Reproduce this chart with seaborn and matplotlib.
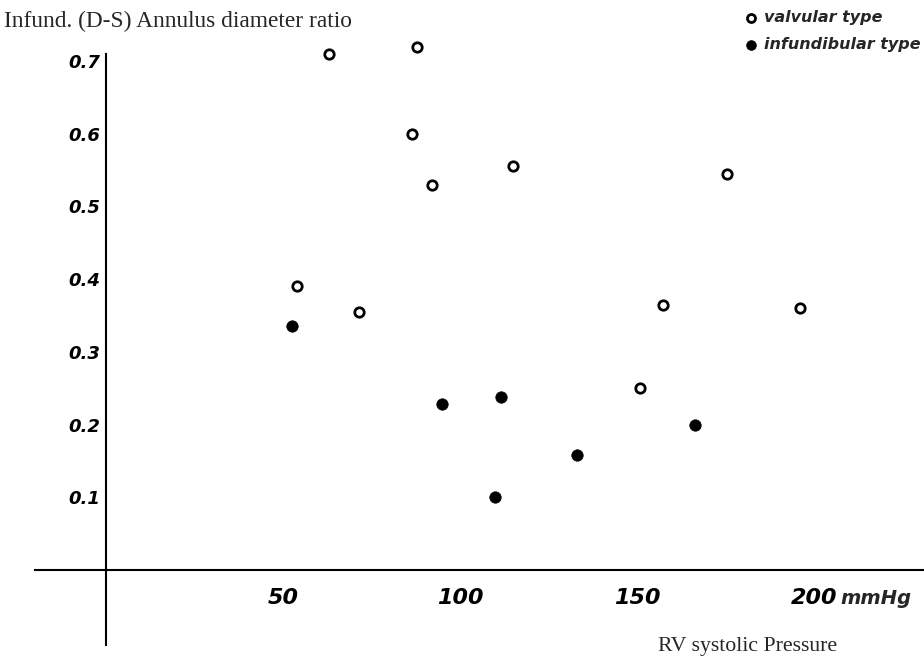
import matplotlib
matplotlib.use("Agg")
import matplotlib.pyplot as plt
import seaborn as sns
import pandas as pd

# ---- data ----
valv_x = [54, 63, 71.5, 86.5, 88, 92, 115, 151, 157.5, 175.5, 196]
valv_y = [0.39, 0.71, 0.355, 0.60, 0.72, 0.53, 0.555, 0.25, 0.365, 0.545, 0.36]
inf_x = [52.5, 95, 110, 111.5, 133, 166.5]
inf_y = [0.335, 0.228, 0.10, 0.238, 0.158, 0.20]

x_ticks = [50, 100, 150, 200]
y_ticks = [0.1, 0.2, 0.3, 0.4, 0.5, 0.6, 0.7]
y_ticklabels = ["0.1", "0.2", "0.3", "0.4", "0.5", "0.6", "0.7"]

title = "Infund. (D-S) Annulus diameter ratio"
xlabel = "RV systolic Pressure"
unit = "mmHg"
labels = ["valvular type", "infundibular type"]

df = pd.DataFrame({
    "pressure": valv_x + inf_x,
    "ratio": valv_y + inf_y,
    "type": [labels[0]] * len(valv_x) + [labels[1]] * len(inf_x),
})

sns.set_style("white")
plt.rcParams["font.family"] = ["DejaVu Sans"]

fig = plt.figure(figsize=(9.24, 6.59), dpi=100, facecolor="white")
ax = fig.add_axes([0, 0, 1, 1])
ax.set_facecolor("white")

sns.scatterplot(data=df[df["type"] == labels[0]], x="pressure", y="ratio",
                marker="o", s=46, facecolor="white", edgecolor="black",
                linewidth=2.0, label=labels[0], ax=ax, clip_on=False, zorder=3)
sns.scatterplot(data=df[df["type"] == labels[1]], x="pressure", y="ratio",
                marker="o", s=68, color="black", edgecolor="black",
                linewidth=0.5, label=labels[1], ax=ax, clip_on=False, zorder=3)

ax.set_xlim(-29.9, 231.1)
ax.set_ylim(-0.1224, 0.784)

for s in ["top", "right"]:
    ax.spines[s].set_visible(False)
ax.spines["left"].set_position(("data", 0))
ax.spines["bottom"].set_position(("data", 0))
ax.spines["left"].set_bounds(-0.103, 0.71)
ax.spines["bottom"].set_bounds(-20, 231.1)
for s in ["left", "bottom"]:
    ax.spines[s].set_color("black")
    ax.spines[s].set_linewidth(1.5)

ax.set_xticks(x_ticks)
ax.set_xticklabels([str(t) for t in x_ticks])
ax.set_yticks(y_ticks)
ax.set_yticklabels(y_ticklabels)
ax.tick_params(axis="x", direction="out", length=5, width=1.2, pad=8,
               labelsize=16, colors="black")
ax.tick_params(axis="y", direction="out", length=4, width=1.0, pad=0,
               labelsize=13, colors="black")
for lab in ax.get_xticklabels() + ax.get_yticklabels():
    lab.set_fontstyle("italic")
    lab.set_fontweight("bold")
ax.set_xlabel("")
ax.set_ylabel("")

ax.text(207.5, -0.047, unit, fontsize=14, fontstyle="italic",
        fontweight="bold", va="baseline", ha="left")

fig.text(0.004, 1 - 27 / 659, title, family="Liberation Serif", fontsize=16.8,
         va="baseline", ha="left")
fig.text(658 / 924, 8 / 659, xlabel, family="Liberation Serif", fontsize=15.7,
         va="baseline", ha="left")

leg = ax.legend(loc="upper right", bbox_to_anchor=(921 / 924, 0.985),
                frameon=False, borderaxespad=0, borderpad=0,
                handlelength=0.7, handletextpad=0.5, labelspacing=0.75,
                markerscale=0.85,
                prop={"style": "italic", "weight": "bold", "size": 11.5})

fig.savefig("out.png", dpi=100, facecolor="white")
